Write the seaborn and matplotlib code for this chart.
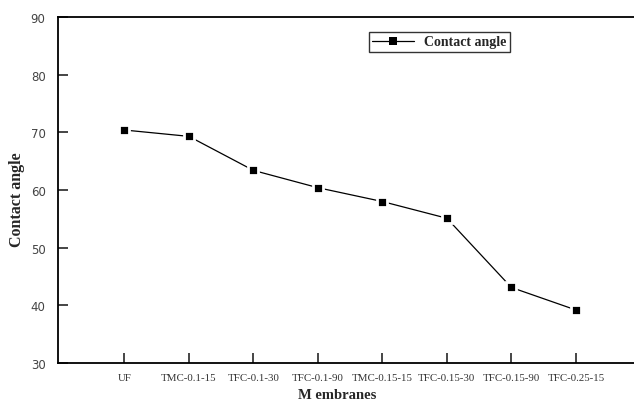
import matplotlib
matplotlib.use("Agg")
import matplotlib.pyplot as plt
import seaborn as sns
import pandas as pd

membranes = ["UF", "TMC-0.1-15", "TFC-0.1-30", "TFC-0.1-90", "TMC-0.15-15",
             "TFC-0.15-30", "TFC-0.15-90", "TFC-0.25-15"]
contact_angle = [70.4, 69.3, 63.4, 60.4, 58.0, 55.1, 43.1, 39.2]
y_ticks = [30, 40, 50, 60, 70, 80, 90]

sns.set_style("white")
plt.rcParams["font.family"] = ["Liberation Serif", "DejaVu Serif"]

fig = plt.figure(figsize=(6.34, 4.06), dpi=100)
axw = (634 - 58) / 634 + 0.01
ax = fig.add_axes([58 / 634, 1 - 364 / 406, axw, (364 - 18) / 406])

x_pos = list(range(len(membranes)))
sns.lineplot(x=x_pos, y=contact_angle, ax=ax, color="black", linewidth=0.9,
             marker="s", markersize=7.5, markerfacecolor="black",
             markeredgecolor="white", markeredgewidth=2.0, label="Contact angle",
             sort=False)

ax.set_xlim(-1.03, 8.0)
ax.set_ylim(30, 90)
ax.set_yticks(y_ticks)
ax.set_xticks(x_pos)
ax.set_xticklabels(membranes, fontsize=7.8, color="#333333")
for lbl in ax.get_yticklabels():
    lbl.set_family(["DejaVu Sans"])
ax.tick_params(axis="y", direction="in", length=7.5, width=1.2, pad=9,
               labelsize=8.5, labelcolor="#444444", left=True)
ax.tick_params(axis="x", direction="in", length=7, width=1.2, pad=7, bottom=True)

for s in ["left", "bottom", "top"]:
    ax.spines[s].set_linewidth(1.3)
    ax.spines[s].set_color("black")
ax.spines["right"].set_visible(False)

ax.set_ylabel("Contact angle", fontsize=11.5, fontweight="bold")
ax.yaxis.set_label_coords(-(58 - 25) / (axw * 634), (364 - 200) / 346)
ax.set_xlabel("M embranes", fontsize=10.5, fontweight="bold")
ax.xaxis.set_label_coords((337 - 58) / (axw * 634), -(389 - 364) / 346)

leg = ax.legend(loc="upper left", frameon=True, fancybox=False,
                fontsize=10, handlelength=3.0, borderpad=0.25, handletextpad=0.7,
                borderaxespad=0)
leg.set_bbox_to_anchor(((369 - 58) / (axw * 634), 1 - (33 - 18) / 346), transform=ax.transAxes)
leg.get_frame().set_edgecolor("black")
leg.get_frame().set_linewidth(1.0)
for t in leg.get_texts():
    t.set_fontweight("bold")
for h in leg.legend_handles:
    h.set_markeredgewidth(0)
    h.set_markersize(6)

fig.savefig("out.png", dpi=100)
